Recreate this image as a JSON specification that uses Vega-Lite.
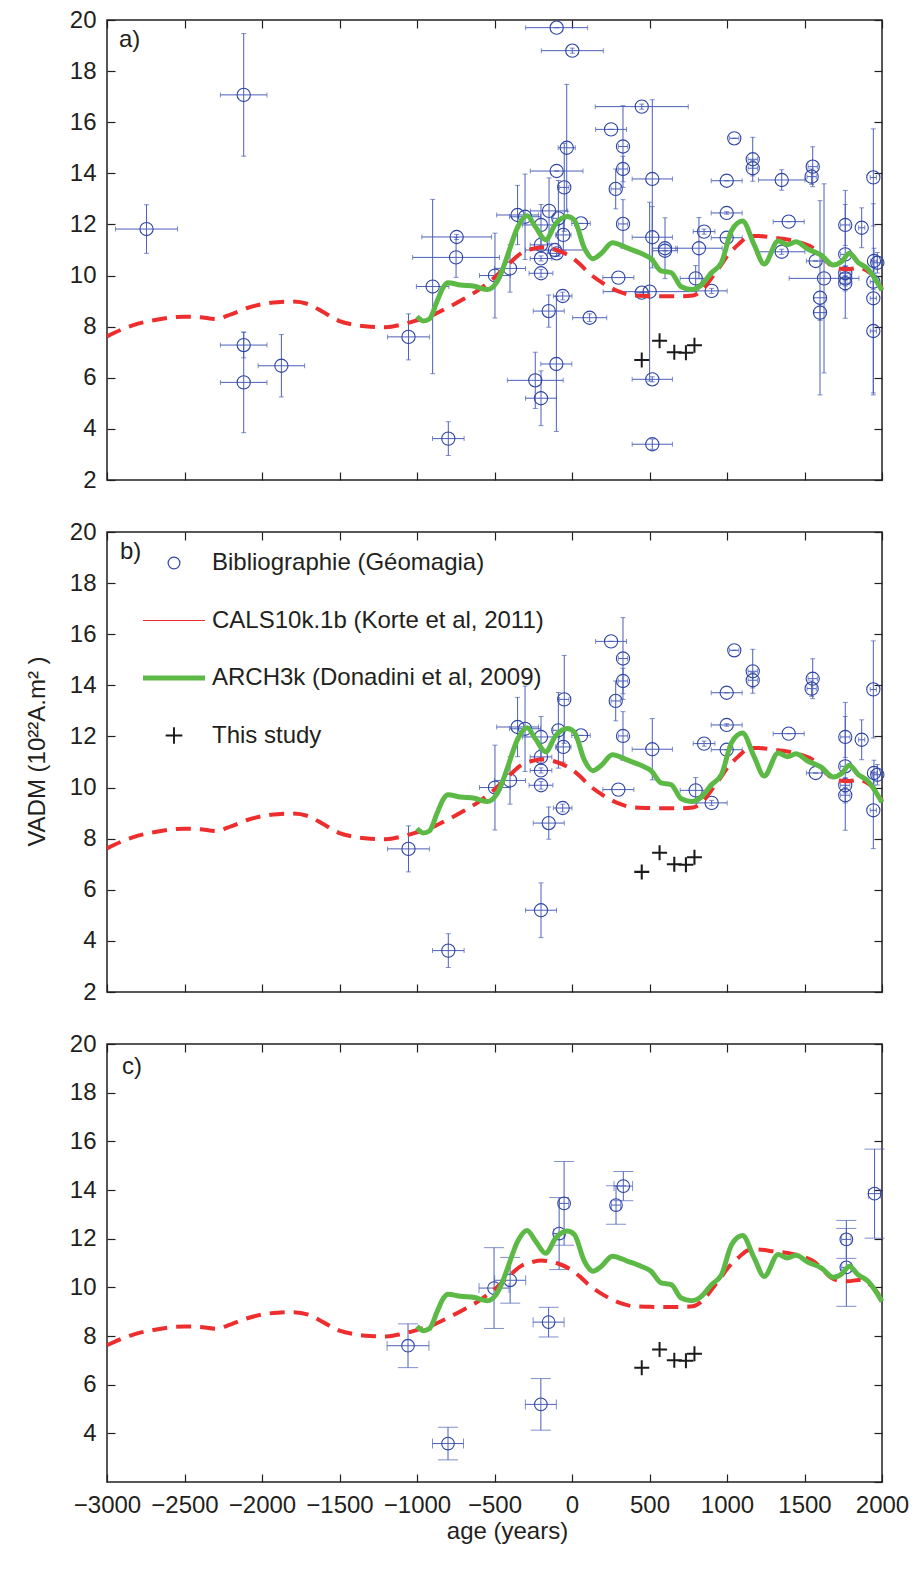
{
  "$schema": "https://vega.github.io/schema/vega-lite/v6.json",
  "padding": {"left": 24, "top": 7, "right": 0, "bottom": 0},
  "spacing": 52,
  "bounds": "flush",
  "config": {
    "font": "Liberation Sans",
    "view": {"stroke": "#231f20", "strokeWidth": 1.5},
    "axis": {"domain": false, "grid": false, "tickColor": "#231f20", "tickWidth": 1.2, "tickSize": -8, "labelFontSize": 24, "labelColor": "#231f20", "labelPadding": 19, "labelFlush": false, "labelOverlap": false, "titleFontSize": 24, "titleFontWeight": "normal", "titleColor": "#231f20"},
    "title": {"fontWeight": "normal"}
  },
  "resolve": {"scale": {"x": "independent", "y": "independent"}},
  "datasets": {
    "cals": [
      {"age": -3000, "vadm": 7.62}, {"age": -2900, "vadm": 7.9}, {"age": -2830, "vadm": 8.06}, {"age": -2700, "vadm": 8.25}, {"age": -2600, "vadm": 8.35}, {"age": -2500, "vadm": 8.39}, {"age": -2400, "vadm": 8.37}, {"age": -2300, "vadm": 8.3}, {"age": -2200, "vadm": 8.48}, {"age": -2100, "vadm": 8.72}, {"age": -2000, "vadm": 8.88}, {"age": -1900, "vadm": 8.96}, {"age": -1800, "vadm": 8.98}, {"age": -1700, "vadm": 8.88}, {"age": -1600, "vadm": 8.55}, {"age": -1500, "vadm": 8.22}, {"age": -1400, "vadm": 8.07}, {"age": -1300, "vadm": 8.0}, {"age": -1200, "vadm": 7.98}, {"age": -1100, "vadm": 8.08}, {"age": -1000, "vadm": 8.25}, {"age": -900, "vadm": 8.45}, {"age": -800, "vadm": 8.75}, {"age": -700, "vadm": 9.08}, {"age": -600, "vadm": 9.45}, {"age": -500, "vadm": 9.92}, {"age": -400, "vadm": 10.5}, {"age": -330, "vadm": 10.87}, {"age": -250, "vadm": 11.05}, {"age": -200, "vadm": 11.1}, {"age": -100, "vadm": 11.0}, {"age": 0, "vadm": 10.7}, {"age": 50, "vadm": 10.45}, {"age": 100, "vadm": 10.15}, {"age": 200, "vadm": 9.7}, {"age": 300, "vadm": 9.38}, {"age": 400, "vadm": 9.22}, {"age": 500, "vadm": 9.2}, {"age": 600, "vadm": 9.19}, {"age": 700, "vadm": 9.19}, {"age": 780, "vadm": 9.22}, {"age": 850, "vadm": 9.5}, {"age": 900, "vadm": 9.9}, {"age": 960, "vadm": 10.4}, {"age": 1000, "vadm": 10.75}, {"age": 1070, "vadm": 11.2}, {"age": 1150, "vadm": 11.55}, {"age": 1200, "vadm": 11.55}, {"age": 1300, "vadm": 11.48}, {"age": 1400, "vadm": 11.4}, {"age": 1480, "vadm": 11.28}, {"age": 1550, "vadm": 11.1}, {"age": 1600, "vadm": 10.85}, {"age": 1670, "vadm": 10.4}, {"age": 1720, "vadm": 10.28}, {"age": 1780, "vadm": 10.25}, {"age": 1850, "vadm": 10.3}, {"age": 1900, "vadm": 10.2}, {"age": 1950, "vadm": 9.95}, {"age": 2000, "vadm": 9.5}
    ],
    "arch": [
      {"age": -1000, "vadm": 8.4}, {"age": -960, "vadm": 8.22}, {"age": -920, "vadm": 8.3}, {"age": -870, "vadm": 9.0}, {"age": -830, "vadm": 9.55}, {"age": -800, "vadm": 9.72}, {"age": -720, "vadm": 9.63}, {"age": -630, "vadm": 9.58}, {"age": -545, "vadm": 9.45}, {"age": -490, "vadm": 9.7}, {"age": -450, "vadm": 10.2}, {"age": -415, "vadm": 10.8}, {"age": -350, "vadm": 11.9}, {"age": -290, "vadm": 12.34}, {"age": -235, "vadm": 11.9}, {"age": -170, "vadm": 11.4}, {"age": -105, "vadm": 12.03}, {"age": -30, "vadm": 12.31}, {"age": 15, "vadm": 12.17}, {"age": 80, "vadm": 11.07}, {"age": 135, "vadm": 10.66}, {"age": 190, "vadm": 10.87}, {"age": 260, "vadm": 11.28}, {"age": 360, "vadm": 11.07}, {"age": 445, "vadm": 10.87}, {"age": 510, "vadm": 10.66}, {"age": 575, "vadm": 10.18}, {"age": 640, "vadm": 10.11}, {"age": 705, "vadm": 9.56}, {"age": 770, "vadm": 9.45}, {"age": 835, "vadm": 9.63}, {"age": 900, "vadm": 10.11}, {"age": 965, "vadm": 10.52}, {"age": 1030, "vadm": 11.76}, {"age": 1100, "vadm": 12.13}, {"age": 1175, "vadm": 11.21}, {"age": 1240, "vadm": 10.45}, {"age": 1330, "vadm": 11.35}, {"age": 1390, "vadm": 11.21}, {"age": 1445, "vadm": 11.32}, {"age": 1520, "vadm": 11.04}, {"age": 1610, "vadm": 10.79}, {"age": 1685, "vadm": 10.41}, {"age": 1740, "vadm": 10.55}, {"age": 1790, "vadm": 10.87}, {"age": 1845, "vadm": 10.52}, {"age": 1910, "vadm": 10.25}, {"age": 2000, "vadm": 9.42}
    ],
    "study": [
      {"age": 450, "vadm": 6.7}, {"age": 565, "vadm": 7.45}, {"age": 660, "vadm": 7.0}, {"age": 735, "vadm": 6.98}, {"age": 790, "vadm": 7.27}
    ],
    "geoA": [
      {"age": -2745, "ageErr": 200, "vadm": 11.82, "vadmErr": 0.95},
      {"age": -2118, "ageErr": 150, "vadm": 17.07, "vadmErr": 2.4},
      {"age": -2118, "ageErr": 150, "vadm": 7.28, "vadmErr": 0.5},
      {"age": -2118, "ageErr": 150, "vadm": 5.82, "vadmErr": 1.97},
      {"age": -1875, "ageErr": 150, "vadm": 6.47, "vadmErr": 1.22},
      {"age": -1055, "ageErr": 135, "vadm": 7.6, "vadmErr": 0.9},
      {"age": -899, "ageErr": 105, "vadm": 9.57, "vadmErr": 3.41},
      {"age": -744, "ageErr": 225, "vadm": 11.51, "vadmErr": 0.1},
      {"age": -748, "ageErr": 280, "vadm": 10.71, "vadmErr": 0.78},
      {"age": -798, "ageErr": 102, "vadm": 3.62, "vadmErr": 0.66},
      {"age": -497, "ageErr": 100, "vadm": 10.0, "vadmErr": 1.66},
      {"age": -400, "ageErr": 100, "vadm": 10.28, "vadmErr": 0.93},
      {"age": -351, "ageErr": 135, "vadm": 12.37, "vadmErr": 1.16},
      {"age": -303, "ageErr": 100, "vadm": 12.3, "vadmErr": 1.67},
      {"age": -200, "ageErr": 120, "vadm": 11.98, "vadmErr": 0.8},
      {"age": -148, "ageErr": 120, "vadm": 12.53, "vadmErr": 1.29},
      {"age": -200, "ageErr": 70, "vadm": 11.2, "vadmErr": 0.3},
      {"age": -200, "ageErr": 70, "vadm": 10.67, "vadmErr": 0.1},
      {"age": -200, "ageErr": 77, "vadm": 10.09, "vadmErr": 0.15},
      {"age": -99, "ageErr": 170, "vadm": 14.09, "vadmErr": 0},
      {"age": -50, "ageErr": 30, "vadm": 13.45, "vadmErr": 1.72},
      {"age": -34, "ageErr": 55, "vadm": 15.0, "vadmErr": 2.48},
      {"age": -88, "ageErr": 35, "vadm": 12.24, "vadmErr": 1.48},
      {"age": -56, "ageErr": 50, "vadm": 11.59, "vadmErr": 0.6},
      {"age": -110, "ageErr": 190, "vadm": 11.0, "vadmErr": 0},
      {"age": -99, "ageErr": 60, "vadm": 10.87, "vadmErr": 0.1},
      {"age": 58, "ageErr": 60, "vadm": 12.04, "vadmErr": 0},
      {"age": -99, "ageErr": 200, "vadm": 19.7, "vadmErr": 0},
      {"age": 2, "ageErr": 200, "vadm": 18.8, "vadmErr": 0.1},
      {"age": -60, "ageErr": 60, "vadm": 9.2, "vadmErr": 0.15},
      {"age": -150, "ageErr": 100, "vadm": 8.61, "vadmErr": 0.63},
      {"age": 114, "ageErr": 110, "vadm": 8.35, "vadmErr": 0.15},
      {"age": -101, "ageErr": 100, "vadm": 6.54, "vadmErr": 2.64},
      {"age": -237, "ageErr": 180, "vadm": 5.9, "vadmErr": 1.1},
      {"age": -200, "ageErr": 100, "vadm": 5.2, "vadmErr": 1.07},
      {"age": 299, "ageErr": 100, "vadm": 9.92, "vadmErr": 0},
      {"age": 252, "ageErr": 100, "vadm": 15.72, "vadmErr": 0},
      {"age": 329, "ageErr": 30, "vadm": 15.05, "vadmErr": 1.6},
      {"age": 329, "ageErr": 30, "vadm": 14.17, "vadmErr": 0.5},
      {"age": 282, "ageErr": 30, "vadm": 13.39, "vadmErr": 0.78},
      {"age": 329, "ageErr": 30, "vadm": 12.02, "vadmErr": 0.95},
      {"age": 450, "ageErr": 300, "vadm": 16.61, "vadmErr": 0.1},
      {"age": 518, "ageErr": 130, "vadm": 13.78, "vadmErr": 3.1},
      {"age": 518, "ageErr": 130, "vadm": 11.5, "vadmErr": 1.2},
      {"age": 450, "ageErr": 40, "vadm": 9.33, "vadmErr": 0},
      {"age": 501, "ageErr": 300, "vadm": 9.37, "vadmErr": 3.5},
      {"age": 518, "ageErr": 130, "vadm": 5.94, "vadmErr": 0.1},
      {"age": 518, "ageErr": 130, "vadm": 3.4, "vadmErr": 0.2},
      {"age": 600, "ageErr": 80, "vadm": 11.07, "vadmErr": 1.19},
      {"age": 600, "ageErr": 80, "vadm": 10.97, "vadmErr": 0},
      {"age": 819, "ageErr": 150, "vadm": 11.07, "vadmErr": 1.2},
      {"age": 852, "ageErr": 70, "vadm": 11.72, "vadmErr": 0.1},
      {"age": 798, "ageErr": 100, "vadm": 9.89, "vadmErr": 0.5},
      {"age": 901, "ageErr": 100, "vadm": 9.4, "vadmErr": 0.1},
      {"age": 998, "ageErr": 100, "vadm": 13.71, "vadmErr": 0},
      {"age": 998, "ageErr": 100, "vadm": 12.45, "vadmErr": 0.05},
      {"age": 998, "ageErr": 100, "vadm": 11.48, "vadmErr": 0},
      {"age": 1047, "ageErr": 30, "vadm": 15.37, "vadmErr": 0},
      {"age": 1166, "ageErr": 30, "vadm": 14.55, "vadmErr": 0.86},
      {"age": 1166, "ageErr": 30, "vadm": 14.2, "vadmErr": 0.3},
      {"age": 1353, "ageErr": 150, "vadm": 13.74, "vadmErr": 0.4},
      {"age": 1398, "ageErr": 100, "vadm": 12.11, "vadmErr": 0},
      {"age": 1353, "ageErr": 150, "vadm": 10.93, "vadmErr": 0.1},
      {"age": 1553, "ageErr": 30, "vadm": 14.26, "vadmErr": 0.78},
      {"age": 1546, "ageErr": 30, "vadm": 13.87, "vadmErr": 0.3},
      {"age": 1572, "ageErr": 60, "vadm": 10.57, "vadmErr": 0},
      {"age": 1626, "ageErr": 225, "vadm": 9.89, "vadmErr": 3.7},
      {"age": 1600, "ageErr": 40, "vadm": 9.13, "vadmErr": 3.8},
      {"age": 1600, "ageErr": 40, "vadm": 8.55, "vadmErr": 0.3},
      {"age": 1763, "ageErr": 30, "vadm": 11.98, "vadmErr": 0.8},
      {"age": 1763, "ageErr": 30, "vadm": 10.83, "vadmErr": 2.5},
      {"age": 1763, "ageErr": 30, "vadm": 10.09, "vadmErr": 0.3},
      {"age": 1763, "ageErr": 30, "vadm": 9.89, "vadmErr": 0.3},
      {"age": 1763, "ageErr": 30, "vadm": 9.7, "vadmErr": 0.3},
      {"age": 1869, "ageErr": 20, "vadm": 11.87, "vadmErr": 0.78},
      {"age": 1944, "ageErr": 20, "vadm": 13.84, "vadmErr": 1.9},
      {"age": 1948, "ageErr": 20, "vadm": 10.57, "vadmErr": 0.5},
      {"age": 1970, "ageErr": 30, "vadm": 10.5, "vadmErr": 0.4},
      {"age": 1944, "ageErr": 20, "vadm": 9.76, "vadmErr": 0.3},
      {"age": 1944, "ageErr": 20, "vadm": 9.11, "vadmErr": 3.7},
      {"age": 1944, "ageErr": 20, "vadm": 7.83, "vadmErr": 2.5}
    ],
    "geoB": [
      {"age": -1055, "ageErr": 135, "vadm": 7.6, "vadmErr": 0.9},
      {"age": -798, "ageErr": 102, "vadm": 3.62, "vadmErr": 0.66},
      {"age": -497, "ageErr": 100, "vadm": 10.0, "vadmErr": 1.66},
      {"age": -400, "ageErr": 100, "vadm": 10.28, "vadmErr": 0.93},
      {"age": -351, "ageErr": 135, "vadm": 12.37, "vadmErr": 1.16},
      {"age": -303, "ageErr": 100, "vadm": 12.3, "vadmErr": 1.67},
      {"age": -200, "ageErr": 120, "vadm": 11.98, "vadmErr": 0.8},
      {"age": -200, "ageErr": 70, "vadm": 11.2, "vadmErr": 0.3},
      {"age": -200, "ageErr": 70, "vadm": 10.67, "vadmErr": 0.1},
      {"age": -200, "ageErr": 77, "vadm": 10.09, "vadmErr": 0.15},
      {"age": -150, "ageErr": 100, "vadm": 8.61, "vadmErr": 0.63},
      {"age": -200, "ageErr": 100, "vadm": 5.2, "vadmErr": 1.07},
      {"age": -60, "ageErr": 60, "vadm": 9.2, "vadmErr": 0.15},
      {"age": -50, "ageErr": 30, "vadm": 13.45, "vadmErr": 1.72},
      {"age": -88, "ageErr": 35, "vadm": 12.24, "vadmErr": 1.48},
      {"age": -56, "ageErr": 50, "vadm": 11.59, "vadmErr": 0.6},
      {"age": 58, "ageErr": 60, "vadm": 12.04, "vadmErr": 0},
      {"age": 252, "ageErr": 100, "vadm": 15.72, "vadmErr": 0},
      {"age": 329, "ageErr": 30, "vadm": 15.05, "vadmErr": 1.6},
      {"age": 329, "ageErr": 30, "vadm": 14.17, "vadmErr": 0.5},
      {"age": 282, "ageErr": 30, "vadm": 13.39, "vadmErr": 0.78},
      {"age": 329, "ageErr": 30, "vadm": 12.02, "vadmErr": 0.95},
      {"age": 299, "ageErr": 100, "vadm": 9.92, "vadmErr": 0},
      {"age": 518, "ageErr": 130, "vadm": 11.5, "vadmErr": 1.2},
      {"age": 798, "ageErr": 100, "vadm": 9.89, "vadmErr": 0.5},
      {"age": 901, "ageErr": 100, "vadm": 9.4, "vadmErr": 0.1},
      {"age": 852, "ageErr": 70, "vadm": 11.72, "vadmErr": 0.1},
      {"age": 998, "ageErr": 100, "vadm": 13.71, "vadmErr": 0},
      {"age": 998, "ageErr": 100, "vadm": 12.45, "vadmErr": 0.05},
      {"age": 998, "ageErr": 100, "vadm": 11.48, "vadmErr": 0},
      {"age": 1047, "ageErr": 30, "vadm": 15.37, "vadmErr": 0},
      {"age": 1166, "ageErr": 30, "vadm": 14.55, "vadmErr": 0.86},
      {"age": 1166, "ageErr": 30, "vadm": 14.2, "vadmErr": 0.3},
      {"age": 1398, "ageErr": 100, "vadm": 12.11, "vadmErr": 0},
      {"age": 1553, "ageErr": 30, "vadm": 14.26, "vadmErr": 0.78},
      {"age": 1546, "ageErr": 30, "vadm": 13.87, "vadmErr": 0.3},
      {"age": 1572, "ageErr": 60, "vadm": 10.57, "vadmErr": 0},
      {"age": 1763, "ageErr": 30, "vadm": 11.98, "vadmErr": 0.8},
      {"age": 1763, "ageErr": 30, "vadm": 10.83, "vadmErr": 2.5},
      {"age": 1763, "ageErr": 30, "vadm": 10.09, "vadmErr": 0.3},
      {"age": 1763, "ageErr": 30, "vadm": 9.7, "vadmErr": 0.3},
      {"age": 1869, "ageErr": 20, "vadm": 11.87, "vadmErr": 0.78},
      {"age": 1944, "ageErr": 20, "vadm": 13.84, "vadmErr": 1.9},
      {"age": 1948, "ageErr": 20, "vadm": 10.57, "vadmErr": 0.5},
      {"age": 1970, "ageErr": 30, "vadm": 10.5, "vadmErr": 0.4},
      {"age": 1944, "ageErr": 20, "vadm": 9.11, "vadmErr": 1.5}
    ],
    "geoC": [
      {"age": -1058, "ageErr": 135, "vadm": 7.6, "vadmErr": 0.9},
      {"age": -800, "ageErr": 100, "vadm": 3.58, "vadmErr": 0.67},
      {"age": -503, "ageErr": 97, "vadm": 9.97, "vadmErr": 1.66},
      {"age": -399, "ageErr": 100, "vadm": 10.29, "vadmErr": 0.94},
      {"age": -151, "ageErr": 100, "vadm": 8.57, "vadmErr": 0.61},
      {"age": -201, "ageErr": 100, "vadm": 5.19, "vadmErr": 1.06},
      {"age": -83, "ageErr": 35, "vadm": 12.21, "vadmErr": 1.48},
      {"age": -51, "ageErr": 30, "vadm": 13.45, "vadmErr": 1.72},
      {"age": 284, "ageErr": 30, "vadm": 13.38, "vadmErr": 0.79},
      {"age": 331, "ageErr": 60, "vadm": 14.16, "vadmErr": 0.6},
      {"age": 1770, "ageErr": 30, "vadm": 11.97, "vadmErr": 0.78},
      {"age": 1770, "ageErr": 30, "vadm": 10.82, "vadmErr": 1.6},
      {"age": 1952, "ageErr": 40, "vadm": 13.85, "vadmErr": 1.83}
    ]
  },
  "vconcat": [
    {
      "width": 775, "height": 460,
      "title": {"text": "a)", "anchor": "start", "frame": "group", "offset": 0, "dx": 12, "dy": 44, "fontSize": 24, "fontWeight": "normal", "color": "#231f20"},
      "resolve": {"axis": {"x": "independent", "y": "independent"}},
      "layer": [
        {"data": {"name": "geoA"}, "mark": {"type": "errorbar", "ticks": true, "size": 5, "thickness": 1, "color": "#4a5fb8"},
         "encoding": {"x": {"field": "age", "type": "quantitative", "scale": {"domain": [-3000, 2000], "nice": false, "zero": false}, "axis": null}, "y": {"field": "vadm", "type": "quantitative", "scale": {"domain": [2, 20], "nice": false, "zero": false}, "axis": null}, "yError": {"field": "vadmErr"}}},
        {"data": {"name": "geoA"}, "mark": {"type": "errorbar", "ticks": true, "size": 5, "thickness": 1, "color": "#4a5fb8"},
         "encoding": {"x": {"field": "age", "type": "quantitative", "axis": null}, "xError": {"field": "ageErr"}, "y": {"field": "vadm", "type": "quantitative", "axis": null}}},
        {"data": {"name": "geoA"}, "mark": {"type": "point", "filled": false, "size": 175, "strokeWidth": 1.1, "opacity": 1, "color": "#2f44a6"},
         "encoding": {"x": {"field": "age", "type": "quantitative", "axis": {"orient": "top", "values": [-3000, -2500, -2000, -1500, -1000, -500, 0, 500, 1000, 1500, 2000], "labels": false, "title": null}}, "y": {"field": "vadm", "type": "quantitative", "axis": {"orient": "right", "values": [2, 4, 6, 8, 10, 12, 14, 16, 18, 20], "labels": false, "title": null}}}},
        {"data": {"name": "cals"}, "mark": {"type": "line", "color": "#ee2e2e", "strokeWidth": 4, "strokeDash": [15, 9], "interpolate": "monotone"},
         "encoding": {"x": {"field": "age", "type": "quantitative", "axis": {"orient": "bottom", "values": [-3000, -2500, -2000, -1500, -1000, -500, 0, 500, 1000, 1500, 2000], "labels": false, "title": null}}, "y": {"field": "vadm", "type": "quantitative", "axis": {"orient": "left", "values": [2, 4, 6, 8, 10, 12, 14, 16, 18, 20], "title": null}}}},
        {"data": {"name": "arch"}, "mark": {"type": "line", "color": "#5cb946", "strokeWidth": 5, "interpolate": "monotone"},
         "encoding": {"x": {"field": "age", "type": "quantitative", "axis": null}, "y": {"field": "vadm", "type": "quantitative", "axis": null}}},
        {"data": {"name": "study"}, "mark": {"type": "point", "shape": "M-1,0H1M0,-1V1", "size": 225, "strokeWidth": 2, "filled": false, "opacity": 1, "color": "#1a1a1a"},
         "encoding": {"x": {"field": "age", "type": "quantitative", "axis": null}, "y": {"field": "vadm", "type": "quantitative", "axis": null}}}
      ]
    },
    {
      "width": 775, "height": 460,
      "title": {"text": "b)", "anchor": "start", "frame": "group", "offset": 0, "dx": 13, "dy": 44, "fontSize": 24, "fontWeight": "normal", "color": "#231f20"},
      "resolve": {"axis": {"x": "independent", "y": "independent"}},
      "layer": [
        {"data": {"name": "geoB"}, "mark": {"type": "errorbar", "ticks": true, "size": 5, "thickness": 1, "color": "#4a5fb8"},
         "encoding": {"x": {"field": "age", "type": "quantitative", "scale": {"domain": [-3000, 2000], "nice": false, "zero": false}, "axis": null}, "y": {"field": "vadm", "type": "quantitative", "scale": {"domain": [2, 20], "nice": false, "zero": false}, "axis": null}, "yError": {"field": "vadmErr"}}},
        {"data": {"name": "geoB"}, "mark": {"type": "errorbar", "ticks": true, "size": 5, "thickness": 1, "color": "#4a5fb8"},
         "encoding": {"x": {"field": "age", "type": "quantitative", "axis": null}, "xError": {"field": "ageErr"}, "y": {"field": "vadm", "type": "quantitative", "axis": null}}},
        {"data": {"name": "geoB"}, "mark": {"type": "point", "filled": false, "size": 4830, "strokeWidth": 1.1, "opacity": 1},
         "encoding": {"x": {"field": "age", "type": "quantitative", "axis": {"orient": "top", "values": [-3000, -2500, -2000, -1500, -1000, -500, 0, 500, 1000, 1500, 2000], "labels": false, "title": null}}, "y": {"field": "vadm", "type": "quantitative", "axis": {"orient": "right", "values": [2, 4, 6, 8, 10, 12, 14, 16, 18, 20], "labels": false, "title": null}},
           "color": {"datum": "Bibliographie (Géomagia)", "type": "nominal",
             "scale": {"domain": ["Bibliographie (Géomagia)", "CALS10k.1b (Korte et al, 2011)", "ARCH3k (Donadini et al, 2009)", "This study"], "range": ["#2f44a6", "#ee2e2e", "#5cb946", "#1a1a1a"]},
             "legend": {"orient": "none", "legendX": 35, "legendY": 511, "title": null, "padding": 0, "symbolSize": 3844, "symbolStrokeWidth": 1.2, "symbolFillColor": "transparent", "symbolOpacity": 1, "labelFontSize": 24, "labelColor": "#231f20", "labelOffset": 6, "labelLimit": 600, "rowPadding": 13.5}},
           "shape": {"datum": "Bibliographie (Géomagia)", "type": "nominal",
             "scale": {"domain": ["Bibliographie (Géomagia)", "CALS10k.1b (Korte et al, 2011)", "ARCH3k (Donadini et al, 2009)", "This study"], "range": ["M0.19,0A0.19,0.19 0 1,1 -0.19,0A0.19,0.19 0 1,1 0.19,0Z", "M-1,0H1", "M-1,-0.06H1M-1,-0.02H1M-1,0.02H1M-1,0.06H1", "M-0.27,-0.012H0.27M-0.27,0.012H0.27M-0.012,-0.27V0.27M0.012,-0.27V0.27"]},
             "legend": {"orient": "none", "legendX": 35, "legendY": 511, "title": null, "padding": 0, "symbolSize": 3844, "symbolStrokeWidth": 1.2, "symbolFillColor": "transparent", "symbolOpacity": 1, "labelFontSize": 24, "labelColor": "#231f20", "labelOffset": 6, "labelLimit": 600, "rowPadding": 13.5}}}},
        {"data": {"name": "cals"}, "mark": {"type": "line", "strokeWidth": 4, "strokeDash": [15, 9], "interpolate": "monotone"},
         "encoding": {"x": {"field": "age", "type": "quantitative", "axis": {"orient": "bottom", "values": [-3000, -2500, -2000, -1500, -1000, -500, 0, 500, 1000, 1500, 2000], "labels": false, "title": null}}, "y": {"field": "vadm", "type": "quantitative", "axis": {"orient": "left", "values": [2, 4, 6, 8, 10, 12, 14, 16, 18, 20], "title": "VADM (10²²A.m² )", "titlePadding": 22, "titleX": -58, "titleY": 219}},
           "color": {"datum": "CALS10k.1b (Korte et al, 2011)", "type": "nominal"}}},
        {"data": {"name": "arch"}, "mark": {"type": "line", "strokeWidth": 5, "interpolate": "monotone"},
         "encoding": {"x": {"field": "age", "type": "quantitative", "axis": null}, "y": {"field": "vadm", "type": "quantitative", "axis": null}, "color": {"datum": "ARCH3k (Donadini et al, 2009)", "type": "nominal"}}},
        {"data": {"name": "study"}, "mark": {"type": "point", "size": 3086, "strokeWidth": 1.4, "filled": false, "opacity": 1},
         "encoding": {"x": {"field": "age", "type": "quantitative", "axis": null}, "y": {"field": "vadm", "type": "quantitative", "axis": null}, "color": {"datum": "This study", "type": "nominal"}, "shape": {"datum": "This study", "type": "nominal"}}}
      ]
    },
    {
      "width": 775, "height": 438,
      "title": {"text": "c)", "anchor": "start", "frame": "group", "offset": 0, "dx": 15, "dy": 47, "fontSize": 24, "fontWeight": "normal", "color": "#231f20"},
      "resolve": {"axis": {"x": "independent", "y": "independent"}},
      "layer": [
        {"data": {"name": "geoC"}, "mark": {"type": "errorbar", "ticks": true, "size": 20, "thickness": 1, "color": "#4a5fb8"},
         "encoding": {"x": {"field": "age", "type": "quantitative", "scale": {"domain": [-3000, 2000], "nice": false, "zero": false}, "axis": null}, "y": {"field": "vadm", "type": "quantitative", "scale": {"domain": [2, 20], "nice": false, "zero": false}, "axis": null}, "yError": {"field": "vadmErr"}}},
        {"data": {"name": "geoC"}, "mark": {"type": "errorbar", "ticks": true, "size": 10, "thickness": 1, "color": "#4a5fb8"},
         "encoding": {"x": {"field": "age", "type": "quantitative", "axis": null}, "xError": {"field": "ageErr"}, "y": {"field": "vadm", "type": "quantitative", "axis": null}}},
        {"data": {"name": "geoC"}, "mark": {"type": "point", "filled": false, "size": 160, "strokeWidth": 1.1, "opacity": 1, "color": "#2f44a6"},
         "encoding": {"x": {"field": "age", "type": "quantitative", "axis": {"orient": "top", "values": [-3000, -2500, -2000, -1500, -1000, -500, 0, 500, 1000, 1500, 2000], "labels": false, "title": null}}, "y": {"field": "vadm", "type": "quantitative", "axis": {"orient": "right", "values": [2, 4, 6, 8, 10, 12, 14, 16, 18, 20], "labels": false, "title": null}}}},
        {"data": {"name": "cals"}, "mark": {"type": "line", "color": "#ee2e2e", "strokeWidth": 4, "strokeDash": [15, 9], "interpolate": "monotone"},
         "encoding": {"x": {"field": "age", "type": "quantitative", "axis": {"orient": "bottom", "values": [-3000, -2500, -2000, -1500, -1000, -500, 0, 500, 1000, 1500, 2000], "format": "d", "title": "age (years)", "titlePadding": 2, "titleX": 400}}, "y": {"field": "vadm", "type": "quantitative", "axis": {"orient": "left", "values": [4, 6, 8, 10, 12, 14, 16, 18, 20], "title": null}}}},
        {"data": {"name": "arch"}, "mark": {"type": "line", "color": "#5cb946", "strokeWidth": 5, "interpolate": "monotone"},
         "encoding": {"x": {"field": "age", "type": "quantitative", "axis": null}, "y": {"field": "vadm", "type": "quantitative", "axis": null}}},
        {"data": {"name": "study"}, "mark": {"type": "point", "shape": "M-1,0H1M0,-1V1", "size": 225, "strokeWidth": 2, "filled": false, "opacity": 1, "color": "#1a1a1a"},
         "encoding": {"x": {"field": "age", "type": "quantitative", "axis": null}, "y": {"field": "vadm", "type": "quantitative", "axis": null}}}
      ]
    }
  ]
}
